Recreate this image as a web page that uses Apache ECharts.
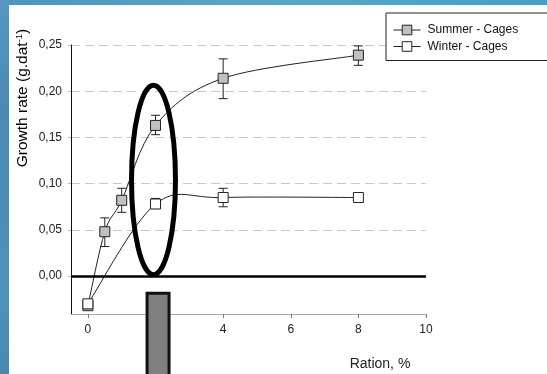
<!DOCTYPE html>
<html>
<head>
<meta charset="utf-8">
<script src="https://cdn.jsdelivr.net/npm/echarts@6/dist/echarts.min.js"></script>
<style>
  html, body { margin: 0; padding: 0; background: #fff; }
  #chart { width: 547px; height: 374px; }
</style>
</head>
<body>
<div id="chart"></div>
<script>
// Growth rate vs ration, summer and winter cage trials
const ration = [0, 0.5, 1, 2, 4, 8];
const summerRate = [-0.032, 0.048, 0.082, 0.163, 0.214, 0.239];
const summerLow  = [null, 0.032, 0.069, 0.153, 0.192, 0.228];
const summerHigh = [null, 0.063, 0.095, 0.174, 0.235, 0.249];

const winterRation = [0, 2, 4, 8];
const winterRate = [-0.030, 0.078, 0.085, 0.085];
const winterLow  = [null, 0.073, 0.075, null];
const winterHigh = [null, 0.084, 0.095, null];

const xTicks = [0, 2, 4, 6, 8, 10];
const yTicks = [0, 0.05, 0.10, 0.15, 0.20, 0.25];

const seriesNames = ['Summer - Cages', 'Winter - Cages'];

const FONT = '"Liberation Sans", Arial, sans-serif';

function pairs(xs, ys) {
  return xs.map((x, i) => [x, ys[i]]);
}
function errorRows(xs, lo, hi) {
  const rows = [];
  xs.forEach((x, i) => { if (lo[i] != null && hi[i] != null) rows.push([x, lo[i], hi[i]]); });
  return rows;
}

// Vertical error bar with caps at both ends
function renderErrorBar(params, api) {
  const x = api.value(0);
  const lo = api.coord([x, api.value(1)]);
  const hi = api.coord([x, api.value(2)]);
  const w = 4.5;
  const style = { stroke: '#222', lineWidth: 1, fill: null };
  return {
    type: 'group',
    children: [
      { type: 'line', shape: { x1: lo[0], y1: lo[1], x2: hi[0], y2: hi[1] }, style },
      { type: 'line', shape: { x1: lo[0] - w, y1: lo[1], x2: lo[0] + w, y2: lo[1] }, style },
      { type: 'line', shape: { x1: hi[0] - w, y1: hi[1], x2: hi[0] + w, y2: hi[1] }, style }
    ]
  };
}

// Smoothed connecting curve: one cubic Bezier per segment, tangents from neighbouring points
function renderSmoothSegment(params, api) {
  const n = params.dataInsideLength;
  const i = params.dataIndexInside;
  if (i >= n - 1) return null;
  const P = k => {
    const kk = Math.max(0, Math.min(n - 1, k));
    return api.coord([api.value(0, kk), api.value(1, kk)]);
  };
  const p0 = P(i - 1), p1 = P(i), p2 = P(i + 1), p3 = P(i + 2);
  const t = 1 / 6;
  return {
    type: 'bezierCurve',
    shape: {
      x1: p1[0], y1: p1[1], x2: p2[0], y2: p2[1],
      cpx1: p1[0] + (p2[0] - p0[0]) * t, cpy1: p1[1] + (p2[1] - p0[1]) * t,
      cpx2: p2[0] - (p3[0] - p1[0]) * t, cpy2: p2[1] - (p3[1] - p1[1]) * t
    },
    style: { stroke: '#222', lineWidth: 1, fill: null }
  };
}

const chart = echarts.init(document.getElementById('chart'), null, { renderer: 'canvas' });

const option = {
  backgroundColor: '#ffffff',
  animation: false,
  textStyle: { fontFamily: FONT },
  grid: { left: 71, top: 45, width: 355, height: 269, containLabel: false },
  legend: {
    data: seriesNames,
    orient: 'vertical',
    left: 386,
    top: 13,
    padding: [11, 40, 8, 7],
    itemGap: 4.5,
    itemWidth: 27,
    itemHeight: 12,
    borderColor: '#222',
    borderWidth: 1,
    backgroundColor: '#fff',
    lineStyle: { color: '#222', width: 1, opacity: 1 },
    itemStyle: { borderColor: '#222', borderWidth: 1 },
    textStyle: { fontFamily: FONT, fontSize: 12, color: '#111', padding: [0, 0, 0, 2] }
  },
  xAxis: {
    type: 'value',
    min: -0.5,
    max: 10,
    axisLine: { onZero: false, lineStyle: { color: '#a8a8a8', width: 1 } },
    axisTick: { show: true, length: 4, customValues: xTicks, lineStyle: { color: '#777' } },
    axisLabel: { customValues: xTicks, fontFamily: FONT, fontSize: 12, color: '#222', margin: 10 },
    splitLine: { show: false }
  },
  yAxis: {
    type: 'value',
    min: -0.041,
    max: 0.25,
    axisLine: { show: true, onZero: false, lineStyle: { color: '#111', width: 1 } },
    axisTick: { show: true, length: 3, customValues: yTicks, lineStyle: { color: '#bbb' } },
    axisLabel: {
      customValues: yTicks,
      fontFamily: FONT, fontSize: 12, color: '#222', margin: 9,
      formatter: v => v.toFixed(2).replace('.', ',')
    },
    splitLine: { show: true, lineStyle: { color: '#c8c8c8', width: 1, type: [9, 5] } }
  },
  series: [
    {
      name: 'summer-curve',
      type: 'custom',
      renderItem: renderSmoothSegment,
      encode: { x: 0, y: 1 },
      data: pairs(ration, summerRate),
      z: 2
    },
    {
      name: 'summer-err',
      type: 'custom',
      renderItem: renderErrorBar,
      encode: { x: 0, y: [1, 2] },
      data: errorRows(ration, summerLow, summerHigh),
      z: 2
    },
    {
      name: seriesNames[0],
      type: 'line',
      data: pairs(ration, summerRate),
      symbol: 'rect',
      symbolSize: 10,
      lineStyle: { color: '#222', width: 1, opacity: 0 },
      itemStyle: { color: '#c0c0c0', borderColor: '#222', borderWidth: 1 },
      z: 3,
      markLine: {
        silent: true,
        symbol: 'none',
        label: { show: false },
        lineStyle: { color: '#000', width: 2.5, type: 'solid', opacity: 1 },
        data: [{ yAxis: 0 }]
      }
    },
    {
      name: 'winter-curve',
      type: 'custom',
      renderItem: renderSmoothSegment,
      encode: { x: 0, y: 1 },
      data: pairs(winterRation, winterRate),
      z: 2
    },
    {
      name: 'winter-err',
      type: 'custom',
      renderItem: renderErrorBar,
      encode: { x: 0, y: [1, 2] },
      data: errorRows(winterRation, winterLow, winterHigh),
      z: 2
    },
    {
      name: seriesNames[1],
      type: 'line',
      data: pairs(winterRation, winterRate),
      symbol: 'rect',
      symbolSize: 10,
      lineStyle: { color: '#222', width: 1, opacity: 0 },
      itemStyle: { color: '#ffffff', borderColor: '#222', borderWidth: 1 },
      z: 4
    }
  ]
};

chart.setOption(option);

// Annotations placed in data units: highlighted ring around the 2 % ration, and the marker block under the axis
const ringCenter = [1.94, 0.104];
const ringHalfSize = [0.65, 0.1025];
const blockX = [1.75, 2.40];
const blockY = [-0.0186, -0.15];

function px(p) {
  return chart.convertToPixel({ xAxisIndex: 0, yAxisIndex: 0 }, p);
}

const c = px(ringCenter);
const cEdge = px([ringCenter[0] + ringHalfSize[0], ringCenter[1] + ringHalfSize[1]]);
const b0 = px([blockX[0], blockY[0]]);
const b1 = px([blockX[1], blockY[1]]);

chart.setOption({
  graphic: [
    {
      type: 'rect', z: -1, silent: true,
      shape: { x: 0, y: 0, width: 547, height: 5 },
      style: { fill: new echarts.graphic.LinearGradient(0, 0, 1, 0, [
        { offset: 0, color: '#4f93bb' }, { offset: 0.5, color: '#5aa6c8' }, { offset: 1, color: '#4e9cc4' }
      ]) }
    },
    {
      type: 'rect', z: -1, silent: true,
      shape: { x: 0, y: 0, width: 9, height: 374 },
      style: { fill: new echarts.graphic.LinearGradient(0, 0, 0, 1, [
        { offset: 0, color: '#5598c0' }, { offset: 0.3, color: '#4d88b0' },
        { offset: 0.8, color: '#4f92b8' }, { offset: 1, color: '#4a86ae' }
      ]) }
    },
    {
      type: 'ellipse', z: 100, silent: true,
      shape: { cx: c[0], cy: c[1], rx: Math.abs(cEdge[0] - c[0]), ry: Math.abs(cEdge[1] - c[1]) },
      style: { fill: null, stroke: '#000', lineWidth: 5 }
    },
    {
      type: 'rect', z: 100, silent: true,
      shape: { x: b0[0], y: b0[1], width: b1[0] - b0[0], height: b1[1] - b0[1] },
      style: { fill: '#808080', stroke: '#111', lineWidth: 3 }
    },
    {
      type: 'text', z: 100, silent: true,
      x: 23, y: 98, rotation: Math.PI / 2,
      style: {
        text: '{a|Growth rate (g.dat}{s|-1}{a|)}',
        align: 'center', verticalAlign: 'middle',
        rich: {
          a: { fontFamily: FONT, fontSize: 15.5, color: '#222', lineHeight: 17 },
          s: { fontFamily: FONT, fontSize: 9.5, color: '#222', lineHeight: 9, verticalAlign: 'top' }
        }
      }
    },
    {
      type: 'text', z: 100, silent: true,
      x: 380, y: 364,
      style: {
        text: 'Ration, %', fontFamily: FONT, fontSize: 14, fill: '#222',
        align: 'center', verticalAlign: 'middle'
      }
    }
  ]
});
</script>
</body>
</html>
